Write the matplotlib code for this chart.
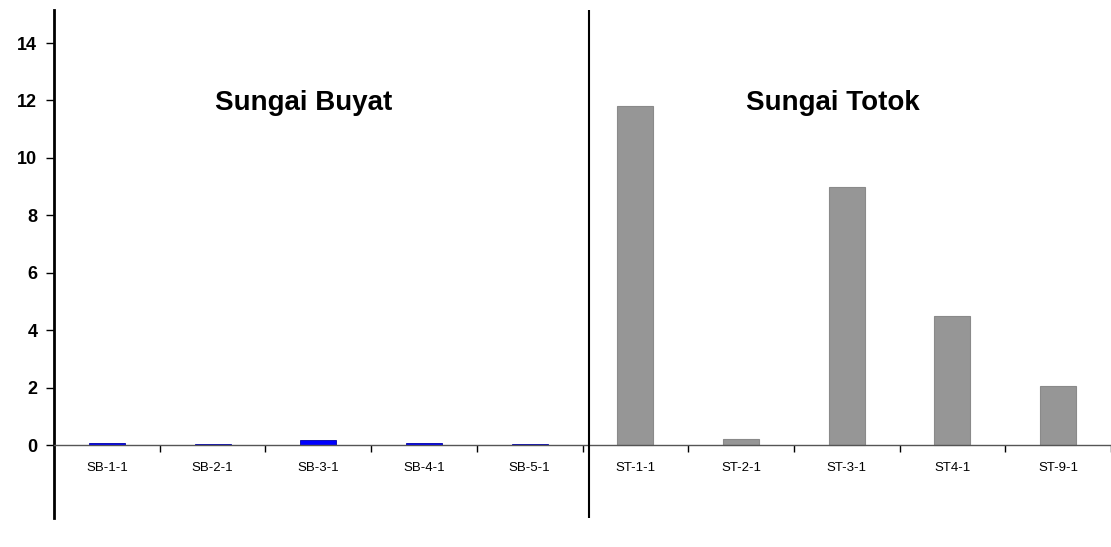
import numpy as np
import matplotlib.pyplot as plt

plt.rcParams['font.family'] = ['Liberation Sans', 'DejaVu Sans']

# Hg data, two rivers
buyat_sites = ['SB-1-1', 'SB-2-1', 'SB-3-1', 'SB-4-1', 'SB-5-1']
buyat_vals = [0.08, 0.04, 0.18, 0.08, 0.04]
totok_sites = ['ST-1-1', 'ST-2-1', 'ST-3-1', 'ST4-1', 'ST-9-1']
totok_vals = [11.8, 0.2, 9.0, 4.5, 2.05]
yticks = [0, 2, 4, 6, 8, 10, 12, 14]

fig = plt.figure(figsize=(11.11, 5.47), dpi=100)
ax = fig.add_axes([54 / 1111, 29 / 547, 1 - 54 / 1111, 508 / 547])

xb = np.arange(len(buyat_sites))
xt = np.arange(len(totok_sites)) + len(buyat_sites)
ax.bar(xb, buyat_vals, width=0.34, color='#0000ff', edgecolor='#0000aa', linewidth=0.6, zorder=3)
ax.bar(xt, totok_vals, width=0.34, color='#969696', edgecolor='#8a8a8a', linewidth=0.8, zorder=3)

ax.set_xlim(-0.5, 9.425)
ax.set_ylim(-2.54, 15.15)

# axes look
for s in ['top', 'right']:
    ax.spines[s].set_visible(False)
ax.spines['left'].set_linewidth(2)
ax.spines['left'].set_color('black')
ax.spines['bottom'].set_position(('data', 0))
ax.spines['bottom'].set_color('#555555')
ax.spines['bottom'].set_linewidth(1)
ax.spines['bottom'].set_zorder(4)

ax.set_yticks(yticks)
ax.set_yticklabels([str(v) for v in yticks], fontsize=13, fontweight='bold')
ax.tick_params(axis='y', direction='out', length=6, width=1, pad=6)

# category boundaries as ticks, names in between
ax.set_xticks(np.arange(0.5, 10, 1.0))
ax.set_xticklabels([])
ax.set_xticks(np.arange(10), minor=True)
ax.set_xticklabels(buyat_sites + totok_sites, minor=True, fontsize=9.5)
ax.tick_params(axis='x', which='major', direction='out', length=5, width=1, color='black')
ax.tick_params(axis='x', which='minor', length=0, pad=12)

# divider between the two rivers
ax.axvline(4.56, color='black', linewidth=1.5, zorder=5)

ax.text(1.86, 11.9, 'Sungai Buyat', ha='center', va='center', fontsize=20, fontweight='bold')
ax.text(6.87, 11.9, 'Sungai Totok', ha='center', va='center', fontsize=20, fontweight='bold')

fig.savefig('out.png', dpi=100)
